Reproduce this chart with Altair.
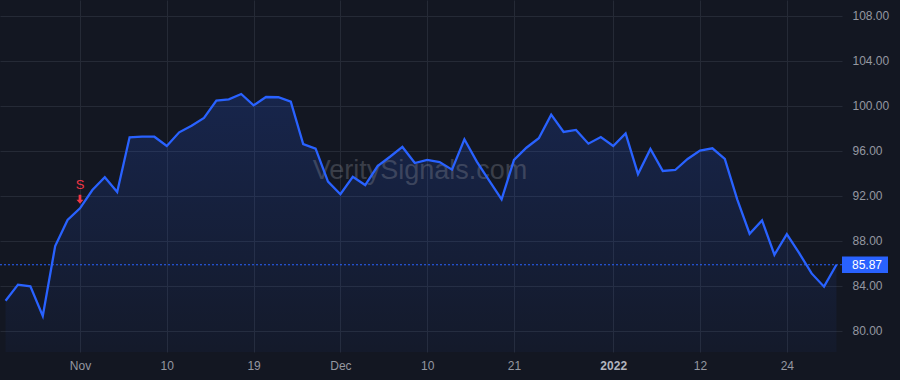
import altair as alt
import pandas as pd

# ---- data -------------------------------------------------------------
holidays = ["2021-11-25", "2021-12-24", "2022-01-17"]
dates = [d for d in pd.bdate_range("2021-10-22", "2022-01-28").strftime("%Y-%m-%d") if d not in holidays]

values = [
    82.67, 84.10, 83.95, 81.31, 87.54, 89.85, 90.89, 92.52, 93.65, 92.34,
    97.21, 97.26, 97.26, 96.43, 97.65, 98.24, 98.93, 100.47, 100.59, 101.06,
    100.05, 100.79, 100.77, 100.38, 96.61, 96.20, 93.26, 92.14, 93.70, 92.96,
    94.65, 95.48, 96.35, 94.92, 95.19, 95.01, 94.33, 97.03, 95.04, 93.36,
    91.69, 95.19, 96.28, 97.12, 99.22, 97.68, 97.86, 96.64, 97.23, 96.43,
    97.56, 93.94, 96.17, 94.21, 94.30, 95.28, 96.02, 96.23, 95.28, 91.69,
    88.63, 89.82, 86.76, 88.60, 86.90, 85.10, 83.92, 85.87,
]

tick_dates = ["2021-11-01", "2021-11-10", "2021-11-19", "2021-12-01", "2021-12-10",
              "2021-12-21", "2022-01-03", "2022-01-12", "2022-01-24"]
tick_labels = ["Nov", "10", "19", "Dec", "10", "21", "2022", "12", "24"]
bold_label = "2022"

y_ticks = [80, 84, 88, 92, 96, 100, 104, 108]
last_price = 85.87
signal_dates = ["2021-11-01"]
signal_labels = ["S"]
watermark = "VeritySignals.com"

# ---- derived tables ----------------------------------------------------
df = pd.DataFrame({"idx": list(range(len(values))), "date": dates, "value": values})
tick_idx = [dates.index(d) for d in tick_dates]
sig = df[df["date"].isin(signal_dates)].copy()
sig["label"] = signal_labels
last_df = pd.DataFrame({"value": [last_price]})

X_DOM = [-0.45, len(values) - 1 + 0.45]
Y_DOM = [78.11, 109.42]

expr = "''"
for i, lab in reversed(list(zip(tick_idx, tick_labels))):
    expr = f"datum.value == {i} ? '{lab}' : ({expr})"
bold_idx = tick_idx[tick_labels.index(bold_label)]

BG = "#131722"
GRID = "#252A36"
LBL = "#9598A1"
BLUE = "#2962FF"
RED = "#F23645"
FONT = "Liberation Sans"

x_axis = alt.Axis(values=tick_idx, labelExpr=expr, title=None, grid=True,
                  gridColor=GRID, domain=False, ticks=False, labelPadding=8,
                  labelColor={"condition": {"test": f"datum.value == {bold_idx}", "value": "#B2B5BE"}, "value": LBL},
                  labelFontWeight={"condition": {"test": f"datum.value == {bold_idx}", "value": "bold"}, "value": "normal"},
                  labelFont=FONT, labelFontSize=12, labelOverlap=False,
                  labelFlush=False, labelBound=False)
y_axis = alt.Axis(orient="right", values=y_ticks, format=".2f", title=None,
                  grid=True, gridColor=GRID, domain=False, ticks=False,
                  labelPadding=10, labelColor=LBL, labelFont=FONT,
                  labelFontSize=12, labelOverlap=False, labelBound=False,
                  labelFlush=False)
x_scale = alt.Scale(domain=X_DOM, nice=False, zero=False)
y_scale = alt.Scale(domain=Y_DOM, nice=False, zero=False)

x_enc = alt.X("idx:Q", scale=x_scale, axis=x_axis)
y_enc = alt.Y("value:Q", scale=y_scale, axis=y_axis)

base = alt.Chart(df)

area = base.mark_area(
    color=alt.Gradient(
        gradient="linear",
        stops=[alt.GradientStop(color="rgba(41,98,255,0.19)", offset=0),
               alt.GradientStop(color="rgba(41,98,255,0.04)", offset=1)],
        x1=1, x2=1, y1=0, y2=1),
    clip=True,
).encode(x=x_enc, y=y_enc, y2=alt.datum(Y_DOM[0]))

wm = alt.Chart(pd.DataFrame({"t": [watermark]})).mark_text(
    font=FONT, fontSize=27, color="#9598A1", opacity=0.3, align="center", baseline="middle"
).encode(text="t:N", x=alt.value(420), y=alt.value(171))

rule = alt.Chart(last_df).mark_rule(
    color=BLUE, strokeDash=[2, 2], strokeWidth=1
).encode(y=y_enc)

line = base.mark_line(color=BLUE, strokeWidth=2.3, clip=True).encode(x=x_enc, y=y_enc)

box = alt.Chart(last_df).mark_point(
    shape="M-1,-0.36L1,-0.36L1,0.36L-1,0.36Z", size=2116, filled=True, color=BLUE, opacity=1
).encode(y=y_enc, x=alt.value(865))

box_text = alt.Chart(last_df).mark_text(
    font=FONT, fontSize=12, color="white", align="left", baseline="middle"
).encode(y=y_enc, x=alt.value(852), text=alt.Text("value:Q", format=".2f"))

arrow = alt.Chart(sig).mark_point(
    shape="M-0.3,-1L0.3,-1L0.3,0.1L0.78,0.1L0,1L-0.78,0.1L-0.3,0.1Z",
    size=81, filled=True, color=RED, opacity=1, yOffset=-9
).encode(x=x_enc, y=y_enc)

sig_text = alt.Chart(sig).mark_text(
    font=FONT, fontSize=13, color=RED, align="center", baseline="middle", dy=-23
).encode(x=x_enc, y=y_enc, text="label:N")

chart = alt.layer(area, wm, rule, line, box, box_text, arrow, sig_text).properties(
    width=842, height=352,
    padding={"left": 0, "top": 0, "right": 58, "bottom": 28},
    autosize=alt.AutoSizeParams(type="none"),
    background=BG,
).configure_view(stroke=None)

chart.save("out.html", embed_options={"renderer": "svg", "actions": False})
